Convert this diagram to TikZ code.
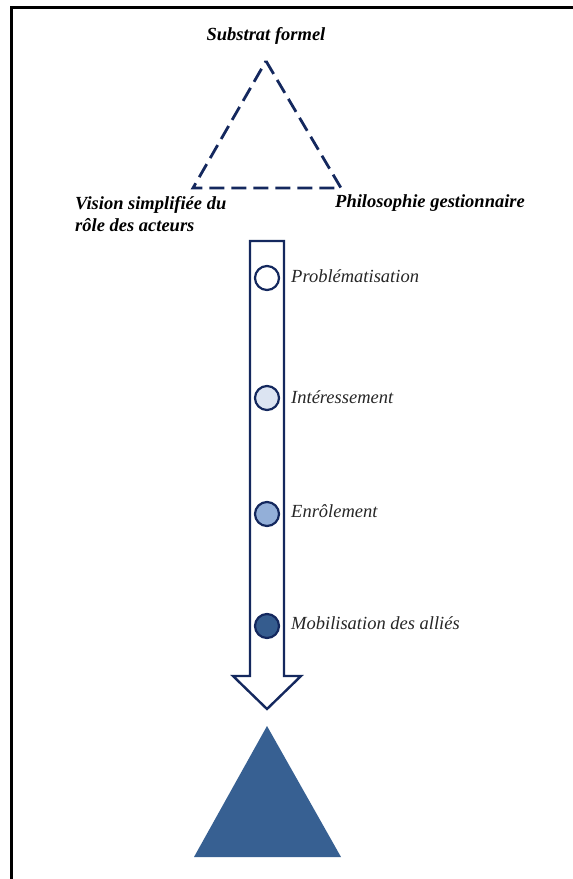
\documentclass[tikz,border=0pt]{standalone}
\usepackage{fontspec}
\setmainfont{Liberation Serif}
\begin{document}
\begin{tikzpicture}[x=1pt,y=-1pt,
  navy/.style={draw=navyc, line width=2.8pt},
  toplab/.style={font=\fontsize{18.5}{22}\selectfont\bfseries\itshape, inner sep=0pt, text=black},
  steplab/.style={font=\fontsize{18.5}{22}\selectfont\itshape, inner sep=0pt, anchor=west, text=black!85},
  dot/.style={circle, draw=navyc, line width=2.2pt, minimum size=24pt, inner sep=0pt}]
\definecolor{navyc}{HTML}{14285E}
\definecolor{c1}{HTML}{FFFFFF}
\definecolor{c2}{HTML}{DCE4F2}
\definecolor{c3}{HTML}{93AFD8}
\definecolor{c4}{HTML}{355C8E}
\definecolor{tri}{HTML}{376092}
\useasboundingbox (0,0) rectangle (573,879);
\fill[white] (0,0) rectangle (573,879);
% frame
\draw[line width=3pt, line cap=rect] (11.5,879) -- (11.5,7) -- (573,7);
% dashed triangle
\coordinate (apex) at (266,61);
\coordinate (bl) at (193,188);
\coordinate (br) at (341,188);
\draw[navy, dash pattern=on 15pt off 7pt] (apex) -- (br) -- (bl) -- cycle;
\node[toplab] (sf) at (266,36) {Substrat formel};
\node[toplab, anchor=west, align=left] (vs) at (75,214) {Vision simplifiée du\\rôle des acteurs};
\node[toplab, anchor=west] (pg) at (335,203) {Philosophie gestionnaire};
% arrow
\draw[navyc, line width=2.4pt, fill=white, line join=miter]
  (250,241) -- (284,241) -- (284,676) -- (301,676) -- (267,709) -- (233,676) -- (250,676) -- cycle;
% dots
\node[dot, fill=c1] (d1) at (267,278) {};
\node[dot, fill=c2] (d2) at (267,398) {};
\node[dot, fill=c3] (d3) at (267,514) {};
\node[dot, fill=c4] (d4) at (267,626) {};
\node[steplab] (l1) at (291,276) {Problématisation};
\node[steplab] (l2) at (291,397) {Intéressement};
\node[steplab] (l3) at (291,511) {Enrôlement};
\node[steplab] (l4) at (291,623) {Mobilisation des alliés};
% filled triangle
\fill[tri] (267,726) -- (341,857) -- (194,857) -- cycle;
\end{tikzpicture}
\end{document}
